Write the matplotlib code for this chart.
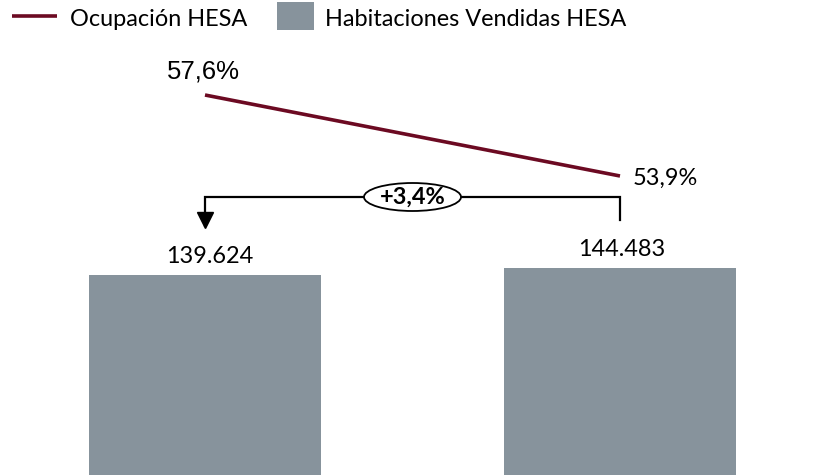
import matplotlib
matplotlib.use('Agg')
import matplotlib.pyplot as plt
from matplotlib.patches import Ellipse, Rectangle
from matplotlib.lines import Line2D
from matplotlib import transforms

# ---------------- data ----------------
periods = [0, 1]
rooms_sold = [139624, 144483]
occupancy = [57.6, 53.9]
room_labels = ['139.624', '144.483']
occ_labels = ['57,6%', '53,9%']
change_label = '+3,4%'
legend_labels = ['Ocupación HESA', 'Habitaciones Vendidas HESA']

# ---------------- style ----------------
BAR_C = '#87939C'
LINE_C = '#6C0A22'
CAL = 'Lato'
ARIAL = 'Liberation Sans'
W, H = 816, 475

fig = plt.figure(figsize=(W / 100, H / 100), dpi=100)
ax = fig.add_axes([0, 0, 1, 1])
ax.set_xlim(-205 / 415, (W - 205) / 415)
ax.set_ylim(0, 331540)
ax.axis('off')
ax.bar(periods, rooms_sold, width=0.557, color=BAR_C, zorder=2)

ax2 = ax.twinx()
ax2.set_ylim(40.24, 61.94)
ax2.axis('off')
ax2.plot(periods, occupancy, color=LINE_C, lw=2.6, solid_capstyle='butt', zorder=3)

# layout overlay in pixel coords (y downwards)
lay = fig.add_axes([0, 0, 1, 1], zorder=5)
lay.set_xlim(0, W)
lay.set_ylim(H, 0)
lay.axis('off')
lay.patch.set_alpha(0)

texts_cal = []

# occupancy labels
t = ax2.annotate(occ_labels[0], xy=(periods[0], occupancy[0]), xytext=(-2, 16),
                 textcoords='offset pixels', ha='center', va='baseline',
                 family=ARIAL, fontsize=18.5, color='black')
t2 = ax2.annotate(occ_labels[1], xy=(periods[1], occupancy[1]), xytext=(13, -9),
                  textcoords='offset pixels', ha='left', va='baseline',
                  family=CAL, fontsize=17, color='black')
texts_cal.append((t2, 65))

# bar labels
offs = [5, 2]
for xi, v, lab, o in zip(periods, rooms_sold, room_labels, offs):
    tt = ax.annotate(lab, xy=(xi, v), xytext=(o, 12), textcoords='offset pixels',
                     ha='center', va='baseline', family=CAL, fontsize=17, color='black')
    texts_cal.append((tt, 86))

# bracket (x tied to bars, y in pixel layout)
bt = transforms.blended_transform_factory(ax.transData, lay.transData)
x0, x1 = periods
lay.add_line(Line2D([x1, x1, x0, x0], [220, 196.5, 196.5, 226], transform=bt,
                    color='black', lw=1.6, solid_joinstyle='miter', zorder=6))
lay.add_line(Line2D([x0], [220], transform=bt, marker='v', markersize=11.5,
                    color='black', lw=0, zorder=7))
xm = (x0 + x1) / 2
ell = Ellipse((xm, 197), width=97 / 415, height=28, transform=bt,
              facecolor='white', edgecolor='black', lw=1.3, zorder=8)
lay.add_patch(ell)
tc = lay.text(xm, 197.5, change_label, transform=bt, ha='center', va='center',
              family=CAL, fontsize=17, fontweight='bold', zorder=9)
texts_cal.append((tc, 65))

# legend (manual)
lay.add_line(Line2D([12, 57], [16, 16], color=LINE_C, lw=2.6, solid_capstyle='butt'))
lay.add_patch(Rectangle((277, 2), 37, 28, facecolor=BAR_C, edgecolor='none'))
tl1 = lay.text(70, 26.5, legend_labels[0], ha='left', va='baseline', family=CAL, fontsize=17)
tl2 = lay.text(325, 26.5, legend_labels[1], ha='left', va='baseline', family=CAL, fontsize=17)
texts_cal.append((tl1, 175))
texts_cal.append((tl2, 307))

# fit common font size for the Calibri-like texts
fig.canvas.draw()
r = fig.canvas.get_renderer()
tot_w = sum(tx.get_window_extent(r).width for tx, _ in texts_cal)
tot_target = sum(w for _, w in texts_cal)
scale = tot_target / tot_w
for tx, _ in texts_cal:
    tx.set_fontsize(tx.get_fontsize() * scale)

fig.savefig('out.png', dpi=100)
